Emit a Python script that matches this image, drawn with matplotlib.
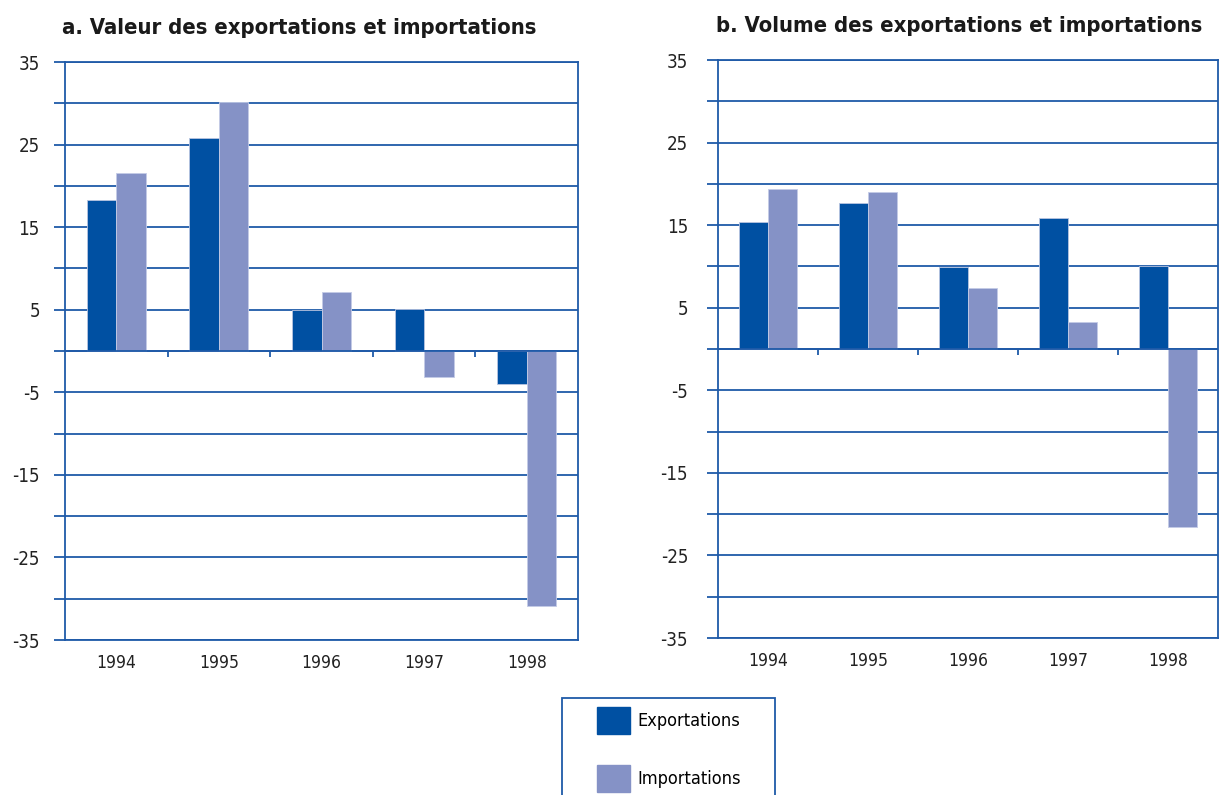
import matplotlib.pyplot as plt
import matplotlib.patches as mpatches
import numpy as np

plt.rcParams['font.family'] = ['DejaVu Sans']
plt.rcParams['font.stretch'] = 'condensed'

years = ['1994', '1995', '1996', '1997', '1998']
valeur_exp = [18.3, 25.8, 5.0, 5.1, -4.0]
valeur_imp = [21.5, 30.1, 7.1, -3.2, -30.9]
volume_exp = [15.4, 17.7, 9.9, 15.9, 10.0]
volume_imp = [19.4, 19.0, 7.4, 3.3, -21.5]

titles = ['a. Valeur des exportations et importations',
          'b. Volume des exportations et importations']

c_exp = '#0050a2'
c_imp = '#8592c6'
c_line = '#1f5aa8'

fig = plt.figure(figsize=(12.2, 7.95), dpi=100)
ax1 = fig.add_axes([65/1220, 1-640/795, 513/1220, 578/795])
ax2 = fig.add_axes([718/1220, 1-638/795, 500/1220, 578/795])

x = np.arange(len(years))
w = 0.287

for ax, exp, imp, title, pad in [(ax1, valeur_exp, valeur_imp, titles[0], 10),
                                 (ax2, volume_exp, volume_imp, titles[1], 13.5)]:
    ax.bar(x - w/2, exp, w, color=c_exp, edgecolor='#b8c4e0', linewidth=0.6, zorder=3)
    ax.bar(x + w/2, imp, w, color=c_imp, edgecolor='#c4cbe6', linewidth=0.6, zorder=3)
    ax.set_xlim(-0.5, 4.5)
    ax.set_ylim(-35, 35)
    ax.set_yticks(np.arange(-35, 36, 10))
    ax.set_yticks(np.arange(-30, 35, 10), minor=True)
    ax.set_yticklabels([str(v) for v in range(-35, 36, 10)])
    ax.tick_params(axis='y', which='both', length=8, width=1.3, color=c_line,
                   direction='out', labelsize=13.5, pad=pad, labelcolor='#222222')
    ax.set_xticks(x)
    ax.set_xticklabels(years)
    ax.tick_params(axis='x', length=0, labelsize=12.5, pad=10, labelcolor='#222222')
    ax.grid(axis='y', which='both', color=c_line, linewidth=1.3, zorder=1)
    for s in ax.spines.values():
        s.set_color(c_line)
        s.set_linewidth(1.3)
    ax.axhline(0, color=c_line, linewidth=1.3, zorder=4)
    ax.vlines(x[:-1] + 0.5, 0, -0.7, color=c_line, linewidth=1.3, zorder=4)
    ax.set_title(title, loc='left', fontsize=15.8, fontweight='bold', pad=20,
                 color='#1a1a1a', x=-0.005)

# legend box
fig.add_artist(mpatches.Rectangle((562/1220, -0.05), 213/1220, 0.05 + 1-698/795,
                                  transform=fig.transFigure, fill=False,
                                  edgecolor=c_line, linewidth=1.3))
handles = [mpatches.Patch(color=c_exp, label='Exportations'),
           mpatches.Patch(color=c_imp, label='Importations')]
fig.legend(handles=handles, loc='upper left', bbox_to_anchor=(597/1220, 1-707/795),
           frameon=False, fontsize=13, handlelength=1.8, handleheight=1.9,
           handletextpad=0.45, labelspacing=1.75, borderpad=0, borderaxespad=0)

plt.savefig('out.png', dpi=100)
